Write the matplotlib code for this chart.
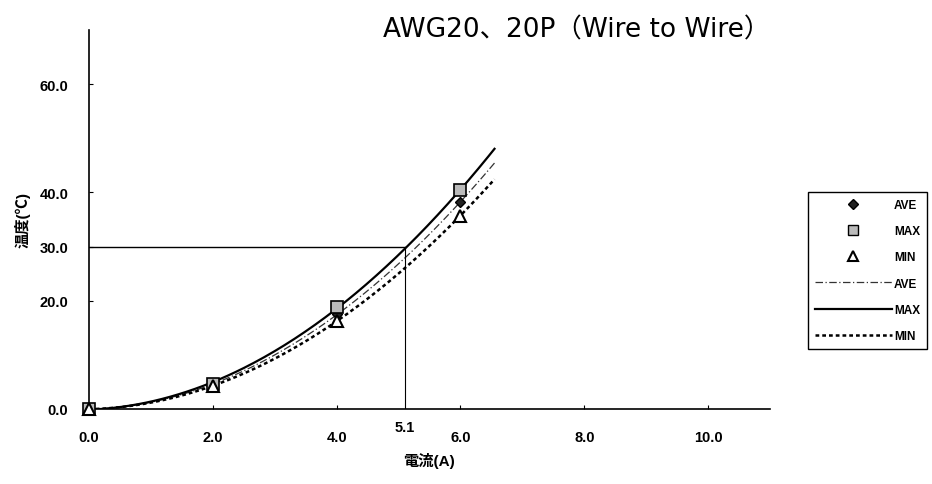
import numpy as np
import matplotlib
matplotlib.use("Agg")
import matplotlib.pyplot as plt
from matplotlib.lines import Line2D
import matplotlib.transforms as mtransforms

plt.rcParams['font.family'] = ['Liberation Sans', 'Noto Sans CJK JP', 'DejaVu Sans']

# measured points
current = [0.0, 2.0, 4.0, 6.0]
temp_ave = [0.0, 4.4, 17.6, 38.2]
temp_max = [0.0, 4.6, 18.9, 40.4]
temp_min = [0.0, 4.2, 16.3, 35.7]

# trendline range and the rated point
fit_end = 6.55
rated_current = 5.1
rated_temp = 30.0

xticks = [0.0, 2.0, 4.0, 6.0, 8.0, 10.0]
yticks = [0.0, 20.0, 30.0, 40.0, 60.0]

fig = plt.figure(figsize=(9.32, 4.85), dpi=100)
ax = fig.add_axes([89 / 932, 1 - 410 / 485, (770 - 89) / 932, (410 - 31) / 485])

# 2nd order trendlines like the spreadsheet
xs = np.linspace(0, fit_end, 200)
styles = {
    'AVE': dict(ls=(0, (6, 2, 1, 2)), lw=0.9, color='#333333'),
    'MAX': dict(ls='-', lw=1.6, color='black'),
    'MIN': dict(ls=(0, (1.5, 1.2)), lw=1.8, color='black'),
}
for name, ys in [('AVE', temp_ave), ('MAX', temp_max), ('MIN', temp_min)]:
    c = np.polyfit(current, ys, 2)
    ax.plot(xs, np.polyval(c, xs), **styles[name], zorder=2)

ax.plot(current, temp_ave, 'D', ms=5, mfc='#222222', mec='black', zorder=3, clip_on=False)
ax.plot(current, temp_max, 's', ms=8, mfc='#bbbbbb', mec='black', mew=1.2, zorder=4, clip_on=False)
ax.plot(current, temp_min, '^', ms=8, mfc='white', mec='black', mew=1.5, zorder=4, clip_on=False)

# rated point guide lines
ax.plot([0, rated_current], [rated_temp, rated_temp], color='black', lw=1.0)
ax.plot([rated_current, rated_current], [0, rated_temp], color='black', lw=0.8)

ax.set_xlim(0, 11)
ax.set_ylim(0, 70)
ax.set_xticks(xticks)
ax.set_xticklabels(['%.1f' % v for v in xticks])
ax.set_yticks(yticks)
ax.set_yticklabels(['%.1f' % v for v in yticks])
ax.tick_params(direction='in', length=3, labelsize=10.5)
ax.tick_params(axis='x', pad=15)
ax.tick_params(axis='y', pad=15)
for lab in ax.get_xticklabels() + ax.get_yticklabels():
    lab.set_fontweight('bold')
ax.spines['top'].set_visible(False)
ax.spines['right'].set_visible(False)
ax.spines['left'].set_linewidth(1.2)
ax.spines['bottom'].set_linewidth(1.2)

trans = mtransforms.blended_transform_factory(ax.transData, ax.transAxes)
ax.text(rated_current, -0.03, '%.1f' % rated_current, transform=trans,
        ha='center', va='top', fontsize=10.5, fontweight='bold')

ax.set_xlabel('電流(A)', fontsize=11, fontweight='bold', labelpad=6)
ax.set_ylabel('温度(℃)', fontsize=11, fontweight='bold', labelpad=6)

fig.text(770 / 932, 1 - 30 / 485, 'AWG20、20P（Wire to Wire）', ha='right', va='center',
         fontsize=19, family=['DejaVu Sans', 'Noto Sans CJK JP'])

handles = [
    Line2D([], [], ls='none', marker='D', ms=5, mfc='#222222', mec='black'),
    Line2D([], [], ls='none', marker='s', ms=7, mfc='#bbbbbb', mec='black'),
    Line2D([], [], ls='none', marker='^', ms=7, mfc='white', mec='black', mew=1.5),
    Line2D([], [], **styles['AVE']),
    Line2D([], [], **styles['MAX']),
    Line2D([], [], **styles['MIN']),
]
labels = ['AVE', 'MAX', 'MIN', 'AVE', 'MAX', 'MIN']
leg = fig.legend(handles, labels, loc='upper left', bbox_to_anchor=(808 / 932, 1 - 193 / 485),
                 bbox_transform=fig.transFigure, fontsize=8.5, handlelength=6.5,
                 handletextpad=0.2, labelspacing=1.2, borderpad=0.6, borderaxespad=0,
                 fancybox=False, framealpha=1, edgecolor='black')
leg.get_frame().set_linewidth(1.0)
for t in leg.get_texts():
    t.set_fontweight('bold')

fig.savefig('out.png', dpi=100)
